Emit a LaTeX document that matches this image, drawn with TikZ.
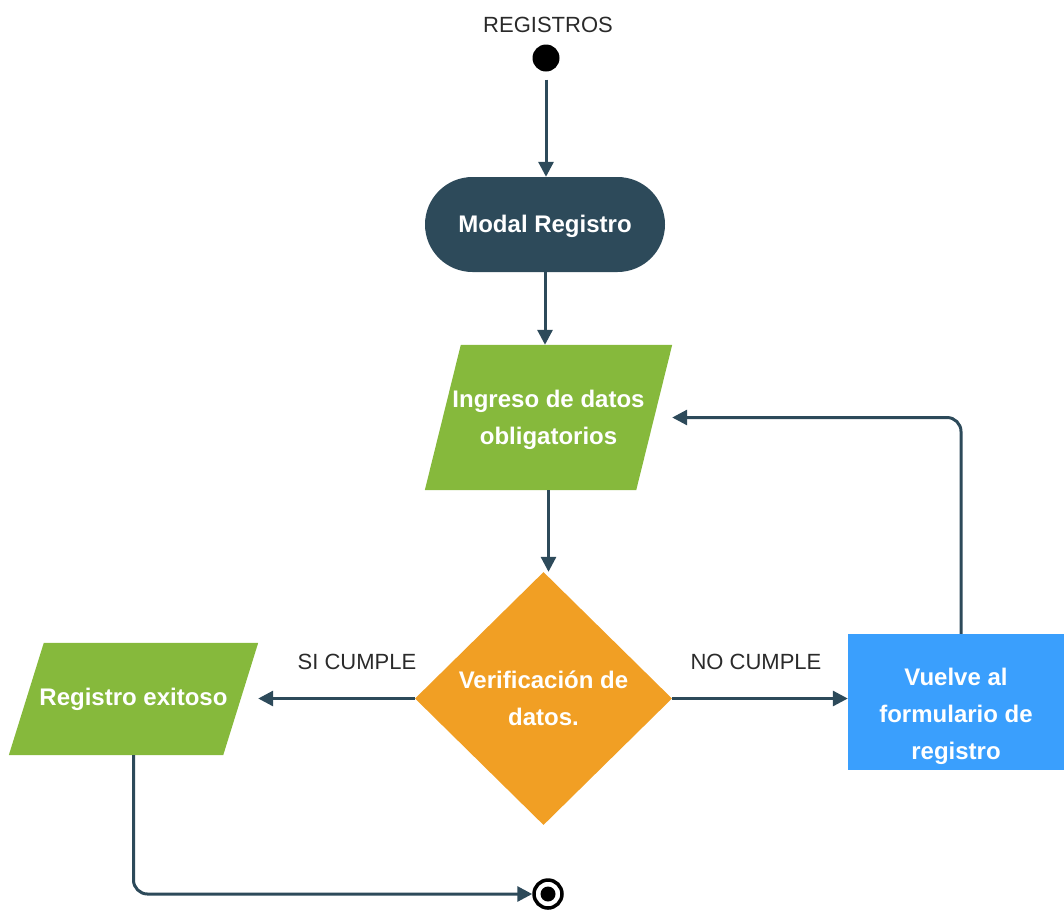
\documentclass[tikz,border=0pt]{standalone}
\usepackage{fontspec}
\setmainfont{Liberation Sans}
\usetikzlibrary{shapes.geometric,arrows.meta,backgrounds}
\definecolor{dk}{HTML}{2D4A5A}
\definecolor{grn}{HTML}{86B93C}
\definecolor{org}{HTML}{F19F24}
\definecolor{blu}{HTML}{3A9FFD}
\definecolor{lblc}{HTML}{2A2A2A}
\begin{document}
\begin{tikzpicture}[x=1pt,y=-1pt,
  conn/.style={draw=dk, line width=3pt, -{Triangle[length=15pt,width=15pt]}},
  wtext/.style={text=white, font=\fontsize{24}{37}\selectfont\bfseries, align=center},
  lbl/.style={text=lblc, font=\fontsize{22}{26}\selectfont},
  parabox/.style={rectangle, inner sep=0pt, wtext},
]
\useasboundingbox (0,0) rectangle (1064,911);
\node[lbl] (title) at (548,25) {REGISTROS};
\node[circle, fill=black, minimum size=27pt, inner sep=0pt] (start) at (546,58) {};
\node[fill=dk, rounded corners=47.5pt, minimum width=240pt, minimum height=95pt, inner sep=0pt, wtext, text depth=1pt] (modal) at (545,224.5) {Modal Registro};
\node[parabox, minimum width=247pt, minimum height=145pt, text depth=0pt] (ing) at (548.5,417.5) {Ingreso de datos\\obligatorios};
\node[diamond, fill=org, minimum width=257pt, minimum height=253pt, inner sep=0pt, wtext] (ver) at (543.5,698.5) {Verificación de\\datos.};
\node[parabox, minimum width=249pt, minimum height=112pt] (reg) at (133.5,699) {Registro exitoso};
\begin{scope}[on background layer]
\fill[grn] ([xshift=36pt]ing.north west) -- (ing.north east) -- ([xshift=-36pt]ing.south east) -- (ing.south west) -- cycle;
\fill[grn] ([xshift=35pt]reg.north west) -- (reg.north east) -- ([xshift=-35pt]reg.south east) -- (reg.south west) -- cycle;
\end{scope}
\node[fill=blu, minimum width=216pt, minimum height=136pt, inner sep=0pt,
  label={[wtext, yshift=-14pt]center:Vuelve al\\formulario de\\registro}] (vuel) at (956,702) {};
\node[circle, draw=black, line width=3.5pt, minimum size=28pt, inner sep=0pt] (end) at (548,894) {};
\fill[black] (end.center) circle[radius=7.5pt];
\node[lbl] (si) at (357,662) {SI CUMPLE};
\node[lbl] (no) at (756,662) {NO CUMPLE};
\draw[conn, shorten <=8pt] (start) -- (start |- modal.north);
\draw[conn] (modal.south) -- (modal.south |- ing.north);
\draw[conn] (ing.south) -- (ing.south |- ver.north);
\draw[conn] (ver.west) -- (ver.west -| reg.east);
\draw[conn] (ver.east) -- (ver.east -| vuel.west);
\draw[conn, rounded corners=14pt] ([xshift=5pt]vuel.north) |- (ing.east);
\draw[conn, rounded corners=14pt] (reg.south) |- (end.west);
\end{tikzpicture}
\end{document}
